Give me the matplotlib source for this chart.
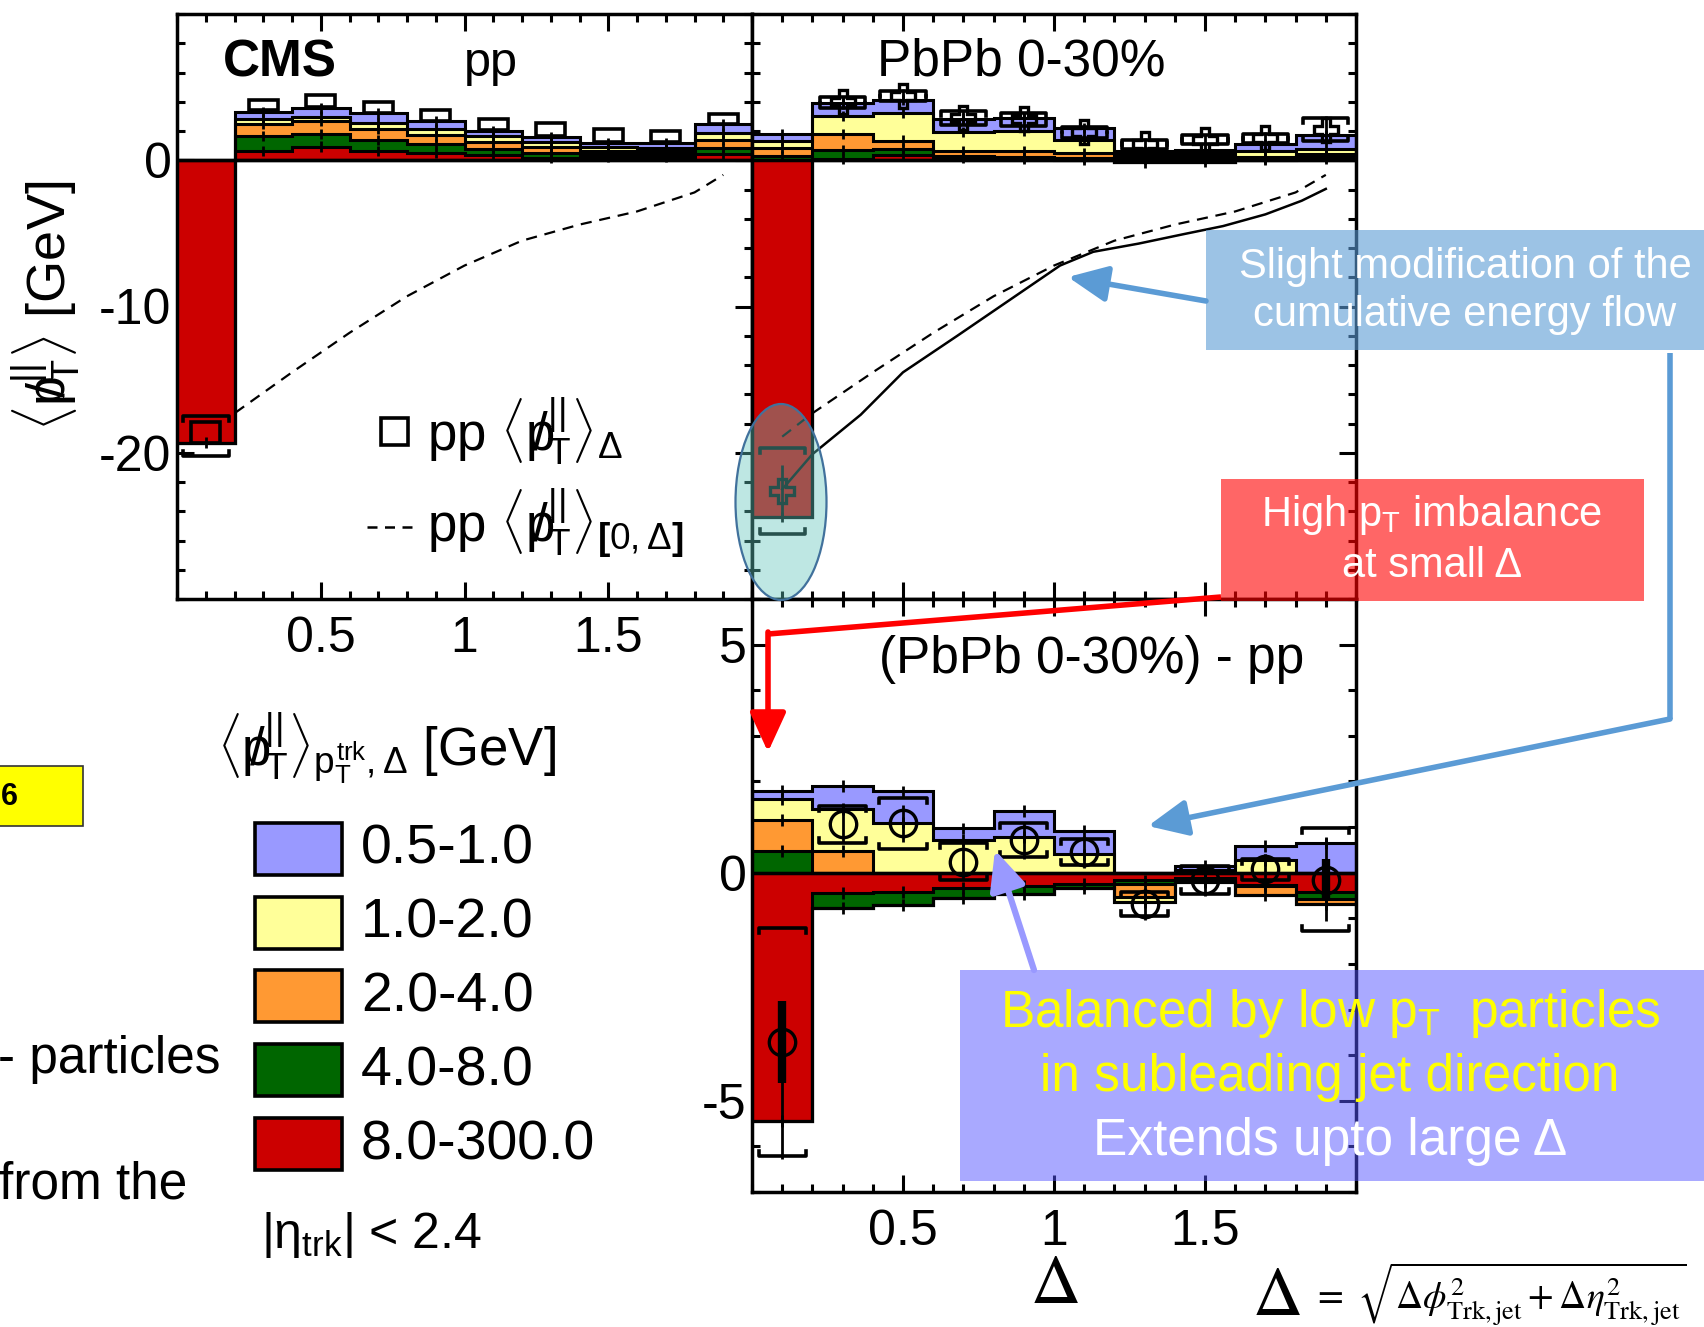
import numpy as np
import matplotlib
matplotlib.use("Agg")
import matplotlib.pyplot as plt
from matplotlib import font_manager
from matplotlib.patches import Rectangle, Ellipse, FancyArrowPatch, ArrowStyle
from matplotlib.ticker import FixedLocator, MultipleLocator, FuncFormatter

plt.rcParams['font.family'] = ['Liberation Sans', 'DejaVu Sans']
plt.rcParams['mathtext.fontset'] = 'custom'
plt.rcParams['mathtext.rm'] = 'Liberation Sans'
plt.rcParams['mathtext.it'] = 'Liberation Sans'
plt.rcParams['mathtext.bf'] = 'Liberation Sans:bold'
plt.rcParams['axes.unicode_minus'] = False

# ================= data =================
edges = [0.0, 0.2, 0.4, 0.6, 0.8, 1.0, 1.2, 1.4, 1.6, 1.8, 2.0]
centers = [0.1, 0.3, 0.5, 0.7, 0.9, 1.1, 1.3, 1.5, 1.7, 1.9]

# track pT bins, stacked from zero outwards
pt_labels = ['8.0-300.0', '4.0-8.0', '2.0-4.0', '1.0-2.0', '0.5-1.0']
pt_colors = ['#CC0000', '#006600', '#FF9933', '#FFFF99', '#9999FF']

# pp panel (rows follow pt_labels)
pp_pos = [
    [0.0, 0.65, 0.94, 0.63, 0.50, 0.33, 0.18, 0.20, 0.20, 0.43],
    [0.0, 1.00, 0.85, 0.76, 0.60, 0.43, 0.30, 0.20, 0.20, 0.40],
    [0.0, 0.85, 0.90, 0.76, 0.60, 0.50, 0.45, 0.25, 0.20, 0.55],
    [0.0, 0.30, 0.30, 0.38, 0.45, 0.40, 0.30, 0.25, 0.25, 0.50],
    [0.0, 0.50, 0.55, 0.67, 0.50, 0.36, 0.35, 0.30, 0.30, 0.57],
]
pp_neg = [
    [-19.3, 0, 0, 0, 0, 0, 0, 0, 0, 0],
    [0, 0, 0, 0, 0, 0, 0, 0, 0, 0],
    [0, 0, 0, 0, 0, 0, 0, 0, 0, 0],
    [0, 0, 0, 0, 0, 0, 0, 0, 0, 0],
    [0, 0, 0, 0, 0, 0, 0, 0, 0, 0],
]
pp_box_mid = [-18.6, 3.78, 4.03, 3.62, 3.07, 2.47, 2.09, 1.71, 1.63, 2.81]
pp_box_half = [0.70, 0.36, 0.40, 0.38, 0.36, 0.37, 0.44, 0.44, 0.40, 0.35]
pp_br_x = [0.1]
pp_br_mid = [-18.85]
pp_br_sys = [1.35]
pp_cum_x = [0.1, 0.2, 0.4, 0.6, 0.8, 1.0, 1.2, 1.4, 1.6, 1.8, 1.9]
pp_cum_y = [-18.9, -17.3, -14.5, -11.8, -9.3, -7.2, -5.5, -4.4, -3.5, -2.2, -1.0]

# PbPb 0-30% panel
pb_pos = [
    [0.00, 0.10, 0.35, 0.15, 0.10, 0.05, 0.10, 0.10, 0.05, 0.10],
    [0.30, 0.60, 0.40, 0.15, 0.10, 0.10, 0.10, 0.10, 0.05, 0.10],
    [0.55, 1.10, 0.60, 0.35, 0.40, 0.35, 0.15, 0.15, 0.10, 0.20],
    [0.50, 1.20, 1.90, 1.30, 1.40, 0.90, 0.15, 0.20, 0.40, 0.40],
    [0.45, 0.90, 0.90, 0.90, 0.90, 0.80, 0.15, 0.15, 0.50, 0.90],
]
pb_neg = [
    [-24.4, 0, 0, 0, 0, 0, -0.15, -0.10, 0, 0],
    [0, 0, 0, 0, 0, 0, 0, 0, 0, 0],
    [0, 0, 0, 0, 0, 0, 0, 0, 0, 0],
    [0, 0, 0, 0, 0, 0, 0, 0, 0, 0],
    [0, 0, 0, 0, 0, 0, 0, 0, 0, 0],
]
pb_val = [-22.6, 3.95, 4.40, 2.90, 2.80, 1.90, 1.10, 1.40, 1.50, 2.10]
pb_stat = [1.75, 0.45, 0.45, 0.45, 0.45, 0.40, 0.40, 0.40, 0.40, 0.90]
pb_sys = [2.95, 0.40, 0.35, 0.50, 0.45, 0.40, 0.30, 0.30, 0.30, 0.80]
pb_cum_x = [0.1, 0.2, 0.36, 0.5, 0.68, 0.85, 1.02, 1.13, 1.28, 1.43, 1.56, 1.7, 1.82, 1.9]
pb_cum_y = [-22.5, -20.1, -17.4, -14.5, -12.0, -9.6, -7.2, -6.26, -5.7, -5.05, -4.5, -3.7, -2.77, -1.96]

# (PbPb 0-30%) - pp panel
df_pos = [
    [0, 0, 0, 0, 0, 0, 0, 0, 0, 0],
    [0.47, 0, 0, 0, 0, 0, 0, 0, 0, 0],
    [0.68, 0.47, 0, 0, 0, 0, 0, 0, 0, 0],
    [0.47, 0.92, 1.10, 0.72, 0.78, 0.40, 0, 0.05, 0.28, 0],
    [0.18, 0.51, 0.68, 0.25, 0.58, 0.51, 0, 0.10, 0.30, 0.66],
]
df_neg = [
    [-5.45, -0.45, -0.42, -0.33, -0.30, -0.25, -0.17, -0.12, -0.26, -0.42],
    [0, -0.32, -0.28, -0.22, -0.17, -0.08, -0.08, -0.06, -0.03, -0.15],
    [0, 0, 0, 0, 0, 0, -0.28, -0.03, -0.20, -0.12],
    [0, 0, 0, 0, 0, 0, -0.12, 0, 0, 0],
    [0, 0, 0, 0, 0, 0, 0, 0, 0, 0],
]
df_val = [-3.72, 1.06, 1.08, 0.24, 0.71, 0.45, -0.69, -0.16, 0.07, -0.15]
df_sys = [2.50, 0.41, 0.56, 0.41, 0.37, 0.28, 0.26, 0.31, 0.24, 1.12]
df_err_lo = [2.55, 0.40, 0.40, 0.40, 0.40, 0.35, 0.35, 0.35, 0.35, 0.90]
df_err_hi = [0.90, 0.40, 0.40, 0.40, 0.40, 0.35, 0.35, 0.35, 0.35, 0.90]
df_stat = [0.90, 0.0, 0.0, 0.0, 0.0, 0.0, 0.0, 0.0, 0.0, 0.45]

# ================= figure =================
W, H = 1704, 1327
fig = plt.figure(figsize=(W / 100, H / 100), dpi=100)


def px_axes(left, top, right, bottom):
    return fig.add_axes([left / W, 1 - bottom / H, (right - left) / W, (bottom - top) / H])


ax_pp = px_axes(177, 14, 752, 599)
ax_pb = px_axes(752, 14, 1356, 599)
ax_df = px_axes(752, 599, 1356, 1192)

fmt = FuncFormatter(lambda v, p: f"{v:g}")
for ax in (ax_pp, ax_pb, ax_df):
    ax.set_xlim(0, 2)
    ax.xaxis.set_major_locator(FixedLocator([0.5, 1.0, 1.5]))
    ax.xaxis.set_minor_locator(MultipleLocator(0.1))
    ax.xaxis.set_major_formatter(fmt)
    ax.yaxis.set_major_formatter(fmt)
    ax.tick_params(which='both', direction='in', top=True, right=True, width=2.2,
                   labelsize=36, color='k')
    ax.tick_params(which='major', length=12.5)
    ax.tick_params(which='minor', length=6)
    ax.tick_params(axis='x', pad=12)
    ax.tick_params(axis='y', pad=4)
    for s in ax.spines.values():
        s.set_linewidth(2.5)
    ax.axhline(0, color='k', lw=2.5, zorder=3.6)

for ax in (ax_pp, ax_pb):
    ax.set_ylim(-30, 10)
    ax.yaxis.set_major_locator(FixedLocator([-20, -10, 0]))
    ax.yaxis.set_minor_locator(MultipleLocator(2))
ax_pb.tick_params(labelleft=False, labelbottom=False)
ax_df.set_ylim(-7, 6)
ax_df.yaxis.set_major_locator(FixedLocator([-5, 0, 5]))
ax_df.yaxis.set_minor_locator(MultipleLocator(1))


def draw_stack(ax, layers, tick_half):
    base = np.zeros(len(centers))
    tops = []
    for vals, col in zip(layers, pt_colors):
        top = base + np.asarray(vals, dtype=float)
        ax.stairs(top, edges, baseline=base, fill=True, color=col, lw=0, zorder=2)
        tops.append(top)
        base = top
    for top, vals in zip(tops, layers):
        ax.stairs(top, edges, baseline=None, color='k', lw=2.2, zorder=3)
        for c, t, v in zip(centers, top, vals):
            if v != 0:
                ax.vlines(c, t - tick_half, t + tick_half, color='k', lw=2, zorder=3)


def brackets(ax, xs, mid, sys, half_w, end):
    for x, m, s in zip(xs, mid, sys):
        ax.plot([x - half_w, x - half_w, x + half_w, x + half_w],
                [m + s - end, m + s, m + s, m + s - end], color='k', lw=2.6, zorder=5)
        ax.plot([x - half_w, x - half_w, x + half_w, x + half_w],
                [m - s + end, m - s, m - s, m - s + end], color='k', lw=2.6, zorder=5)


# ---- pp ----
draw_stack(ax_pp, pp_pos, 0.35)
draw_stack(ax_pp, pp_neg, 0.35)
ax_pp.plot(pp_cum_x, pp_cum_y, color='k', lw=1.6, ls=(0, (5, 3.5)), zorder=1)
for c, m, h in zip(centers, pp_box_mid, pp_box_half):
    ax_pp.add_patch(Rectangle((c - 0.05, m - h), 0.1, 2 * h, fill=False, ec='k', lw=2.6, zorder=5))
brackets(ax_pp, pp_br_x, pp_br_mid, pp_br_sys, 0.08, 0.35)

# ---- PbPb ----
draw_stack(ax_pb, pb_pos, 0.35)
draw_stack(ax_pb, pb_neg, 0.35)
ax_pb.plot(pp_cum_x, pp_cum_y, color='k', lw=1.6, ls=(0, (5, 3.5)), zorder=4)
ax_pb.plot(pb_cum_x, pb_cum_y, color='k', lw=1.8, zorder=4)
ax_pb.vlines(centers, np.subtract(pb_val, pb_stat), np.add(pb_val, pb_stat), color='k', lw=2, zorder=5)
brackets(ax_pb, centers, pb_val, pb_sys, 0.075, 0.35)
ax_pb.plot(centers, pb_val, 'P', ms=17, mfc='none', mec='k', mew=2.4, zorder=6)

# ---- difference ----
draw_stack(ax_df, df_pos, 0.13)
draw_stack(ax_df, df_neg, 0.13)
ax_df.vlines(centers, np.subtract(df_val, df_err_lo), np.add(df_val, df_err_hi), color='k', lw=2, zorder=5)
ax_df.vlines(centers, np.subtract(df_val, df_stat), np.add(df_val, df_stat), color='k', lw=6, zorder=5)
brackets(ax_df, centers, df_val, df_sys, 0.078, 0.11)
ax_df.plot(centers, df_val, 'o', ms=19, mfc='none', mec='k', mew=2.4, zorder=6)

# ================= overlay (labels, legends, slide annotations) =================
ov = fig.add_axes([0, 0, 1, 1], zorder=10)
ov.set_xlim(0, W)
ov.set_ylim(H, 0)
ov.axis('off')

pslash = r'\langle p\!\!\!/_{\mathrm{T}}^{||}\rangle'

ov.text(223, 63, 'CMS', fontsize=37, weight='bold', ha='left', va='center')
ov.text(491, 63, 'pp', fontsize=35, ha='center', va='center')
ov.text(1021, 62, 'PbPb 0-30%', fontsize=37, ha='center', va='center')
ov.text(1092, 660, '(PbPb 0-30%) - pp', fontsize=37, ha='center', va='center')
ov.text(46, 306, '$' + pslash + '$ [GeV]', fontsize=39, rotation=90, ha='center', va='center')

# in-panel legend
ov.add_patch(Rectangle((381, 418), 27, 27, fill=False, ec='k', lw=2.6))
ov.text(427, 451, 'pp $' + pslash + r'_{\Delta}$', fontsize=38, ha='left', va='baseline')
ov.plot([367, 418], [527, 527], color='k', lw=1.8, ls=(0, (4, 3)))
ov.text(427, 543, 'pp $' + pslash + r'_{\mathbf{[}0,\Delta\mathbf{]}}$', fontsize=38,
        ha='left', va='baseline')

# pT legend
ov.text(217, 766, '$' + pslash + r'_{p_{\mathrm{T}}^{\mathrm{trk}},\Delta}$ [GeV]', fontsize=38,
        ha='left', va='baseline')
leg_tops = [823, 897, 970, 1044, 1118]
for y0, lab, col in zip(leg_tops, pt_labels[::-1], pt_colors[::-1]):
    ov.add_patch(Rectangle((255, y0), 87, 52, fc=col, ec='k', lw=2.6))
    ov.text(361, y0 + 27, lab, fontsize=40, ha='left', va='center')
ov.text(261, 1248, r'$|\eta_{\mathrm{trk}}|$ < 2.4', fontsize=36, ha='left', va='baseline')

# leftover slide text at the left edge
ov.add_patch(Rectangle((-5, 766), 88, 60, fc='#FFFF00', ec='#333333', lw=1.2))
ov.text(1, 797, '6', fontsize=22, weight='bold', ha='left', va='center')
ov.text(220, 1060, '- particles', fontsize=37, ha='right', va='center')
ov.text(187, 1185, 'from the', fontsize=37, ha='right', va='center')

# axis title and definition of Delta
ov.text(1054, 1285, r'$\Delta$', fontsize=50, ha='center', va='center', math_fontfamily='stix')
ov.text(1252, 1315, r'$\Delta$', fontsize=50, ha='left', va='baseline', math_fontfamily='stix')
ov.text(1312, 1294, r'$=\ \sqrt{\Delta\phi^2_{\mathrm{Trk,jet}}+\Delta\eta^2_{\mathrm{Trk,jet}}}$',
        fontsize=27, ha='left', va='center', math_fontfamily='stix')

# ellipse highlight
ov.add_patch(Ellipse((781, 502), 91, 196, fc=(0.38, 0.78, 0.74, 0.41), ec='#41719C', lw=1.6))

# blue annotation
ov.add_patch(Rectangle((1206, 230), 520, 120, fc='#5B9BD5', alpha=0.6, lw=0))
ov.text(1465, 291, 'Slight modification of the\ncumulative energy flow', fontsize=30,
        color='white', ha='center', va='center', linespacing=1.25)
ov.add_patch(FancyArrowPatch((1206, 301), (1068, 277), color='#5B9BD5', lw=4,
                             arrowstyle=ArrowStyle('-|>', head_length=1.2, head_width=0.55),
                             mutation_scale=20, shrinkA=0, shrinkB=0))
ov.plot([1670, 1670], [353, 719], color='#5B9BD5', lw=4, solid_capstyle='butt')
ov.add_patch(FancyArrowPatch((1670, 719), (1148, 826), color='#5B9BD5', lw=4,
                             arrowstyle=ArrowStyle('-|>', head_length=1.2, head_width=0.55),
                             mutation_scale=20, shrinkA=0, shrinkB=0))

# red annotation
ov.add_patch(Rectangle((1221, 479), 423, 122, fc='#FF0000', alpha=0.6, lw=0))
ov.text(1432, 515, r'High p$_{\mathrm{T}}$ imbalance', fontsize=30, color='white',
        ha='center', va='center')
ov.text(1432, 566, 'at small \u0394', fontsize=30, color='white', ha='center', va='center')
ov.plot([1221, 768], [597, 634], color='#FF0000', lw=4, solid_capstyle='butt')
ov.add_patch(FancyArrowPatch((768, 632), (768, 752), color='#FF0000', lw=4,
                             arrowstyle=ArrowStyle('-|>', head_length=1.2, head_width=0.55),
                             mutation_scale=20, shrinkA=0, shrinkB=0))

# purple annotation
narrow = any(f.name == 'Liberation Sans Narrow' for f in font_manager.fontManager.ttflist)
box_font = 'Liberation Sans Narrow' if narrow else 'Liberation Sans'
box_size = 44 if narrow else 37
ov.add_patch(Rectangle((960, 970), 760, 211, fc='#5555FF', alpha=0.5, lw=0))
ov.text(1330, 1014, r'Balanced by low p$_{\mathrm{T}}$  particles', fontsize=box_size,
        family=box_font, color='#FFFF00', ha='center', va='center')
ov.text(1330, 1078, 'in subleading jet direction', fontsize=box_size, family=box_font,
        color='#FFFF00', ha='center', va='center')
ov.text(1330, 1141, 'Extends upto large \u0394', fontsize=box_size, family=box_font,
        color='white', ha='center', va='center')
ov.add_patch(FancyArrowPatch((1034, 970), (995, 850), color='#9999FF', lw=4.5,
                             arrowstyle=ArrowStyle('-|>', head_length=1.2, head_width=0.55),
                             mutation_scale=20, shrinkA=0, shrinkB=0))

fig.savefig('out.png', dpi=100)
